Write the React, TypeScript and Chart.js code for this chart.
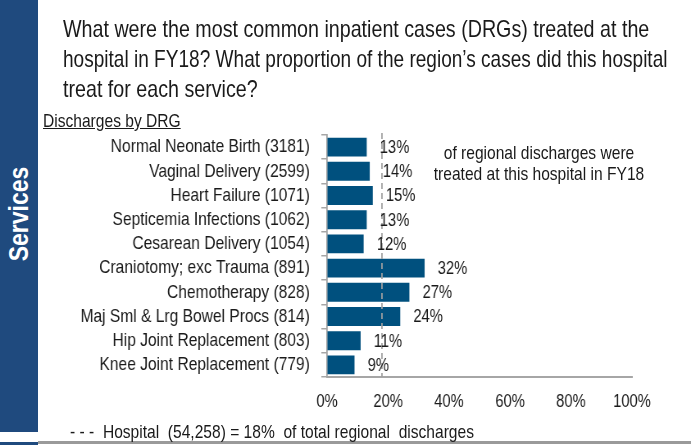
import React, { useEffect, useRef } from "react";
import { Chart, registerables } from "chart.js";

Chart.register(...registerables);

const categories = [
  "Normal Neonate Birth (3181)",
  "Vaginal Delivery (2599)",
  "Heart Failure (1071)",
  "Septicemia Infections (1062)",
  "Cesarean Delivery (1054)",
  "Craniotomy; exc Trauma (891)",
  "Chemotherapy (828)",
  "Maj Sml & Lrg Bowel Procs (814)",
  "Hip Joint Replacement (803)",
  "Knee Joint Replacement (779)",
];
const shareValues = [13, 14, 15, 13, 12, 32, 27, 24, 11, 9];
const hospitalShare = 18;
const xTicks = [0, 20, 40, 60, 80, 100];
const titleLines = [
  "What were the most common inpatient cases (DRGs) treated at the",
  "hospital in FY18? What proportion of the region\u2019s cases did this hospital",
  "treat for each service?",
];

const FONT = '"Liberation Sans", Arial, sans-serif';
const BAR = "#00507E";
const SIDE = "#1F4A7E";
const AXIS = "#A6A6A6";
const TEXT = "#1a1a1a";

// horizontal condensing factor (the reference uses a narrow face)
const K = 0.82;
const CW = Math.round(691 / K);
const CH = 445;
const titleScales = [K, 0.794, K];

const overlayPlugin = {
  id: "overlay",
  afterDatasetsDraw(chart: any) {
    const { ctx, chartArea, scales } = chart;
    const x = scales.x.getPixelForValue(hospitalShare);
    ctx.save();
    ctx.strokeStyle = "#A0A0A0";
    ctx.lineWidth = 1.8;
    ctx.setLineDash([6, 4]);
    ctx.beginPath();
    ctx.moveTo(x, chartArea.top - 2);
    ctx.lineTo(x, chartArea.bottom);
    ctx.stroke();
    ctx.setLineDash([]);
    const meta = chart.getDatasetMeta(0);
    ctx.font = `18px ${FONT}`;
    ctx.fillStyle = TEXT;
    ctx.textAlign = "left";
    ctx.textBaseline = "middle";
    meta.data.forEach((bar: any, i: number) => {
      ctx.fillText(`${shareValues[i]}%`, bar.x + 16, bar.y + 1);
    });
    ctx.restore();
  },
};

export default function App() {
  const ref = useRef<HTMLCanvasElement>(null);
  useEffect(() => {
    const chart = new Chart(ref.current!, {
      type: "bar",
      data: {
        labels: categories,
        datasets: [
          {
            data: shareValues,
            backgroundColor: BAR,
            barPercentage: 0.78,
            categoryPercentage: 1,
          },
        ],
      },
      options: {
        indexAxis: "y",
        responsive: false,
        animation: false,
        layout: { padding: { top: 135, right: CW - 771, bottom: 0, left: 0 } },
        plugins: { legend: { display: false }, tooltip: { enabled: false } },
        scales: {
          x: {
            min: 0,
            max: 100,
            afterBuildTicks(scale: any) {
              scale.ticks = xTicks.map((v) => ({ value: v }));
            },
            afterFit(scale: any) {
              scale.height = 68;
            },
            ticks: {
              callback: (v: any) => `${v}%`,
              font: { family: FONT, size: 18 },
              color: TEXT,
              padding: 14,
              maxRotation: 0,
              autoSkip: false,
            },
            grid: { drawOnChartArea: false, drawTicks: false },
            border: { color: AXIS, width: 2 },
          },
          y: {
            afterFit(scale: any) {
              scale.width = 399;
            },
            ticks: {
              font: { family: FONT, size: 19 },
              color: TEXT,
              padding: 14,
              autoSkip: false,
            },
            grid: {
              drawOnChartArea: false,
              drawTicks: true,
              tickLength: 7,
              color: AXIS,
              offset: true,
              lineWidth: 1.5,
            },
            border: { color: AXIS, width: 1.8 },
          },
        },
      },
      plugins: [overlayPlugin],
    });
    return () => chart.destroy();
  }, []);

  const abs = (s: React.CSSProperties): React.CSSProperties => ({
    position: "absolute",
    fontFamily: FONT,
    color: TEXT,
    margin: 0,
    whiteSpace: "pre",
    transformOrigin: "0 0",
    transform: `scaleX(${K})`,
    ...s,
  });

  return (
    <div
      style={{
        position: "fixed",
        left: 0,
        top: 0,
        width: 691,
        height: 445,
        background: "#fff",
        overflow: "hidden",
      }}
    >
      <div
        style={{
          position: "absolute",
          left: 0,
          top: 0,
          width: CW,
          height: CH,
          transformOrigin: "0 0",
          transform: `scaleX(${691 / CW})`,
        }}
      >
        <canvas
          ref={ref}
          width={CW}
          height={CH}
          style={{ display: "block", width: CW, height: CH }}
        />
      </div>
      <div style={{ position: "absolute", left: 0, top: 0, width: 38, height: 432, background: SIDE }} />
      <div style={{ position: "absolute", left: 38, top: 441, width: 653, height: 3, background: "#9A9A9A" }} />
      <div style={{ position: "absolute", left: 0, top: 442, width: 38, height: 3, background: SIDE }} />
      <div
        style={abs({
          left: 19,
          top: 214,
          transformOrigin: "50% 50%",
          transform: `translate(-50%, -50%) rotate(-90deg) scaleX(${K})`,
          color: "#fff",
          fontWeight: "bold",
          fontSize: 28,
          lineHeight: "30px",
        })}
      >
        Services
      </div>
      {titleLines.map((line, i) => (
        <div
          key={i}
          style={abs({
            left: 63,
            top: 14 + i * 30,
            fontSize: 24,
            lineHeight: "30px",
            transform: `scaleX(${titleScales[i]})`,
          })}
        >
          {line}
        </div>
      ))}
      <div style={abs({ left: 43, top: 111, fontSize: 19, lineHeight: "19px", textDecoration: "underline" })}>
        Discharges by DRG
      </div>
      <div
        style={abs({
          left: 539,
          top: 142,
          textAlign: "center",
          fontSize: 19,
          lineHeight: "21px",
          transformOrigin: "0 0",
          transform: `scaleX(${K}) translateX(-50%)`,
        })}
      >
        {"of regional discharges were\ntreated at this hospital in FY18"}
      </div>
      <div style={abs({ left: 70, top: 422, fontSize: 19, lineHeight: "19px" })}>
        {"- - -  Hospital  (54,258) = 18%  of total regional  discharges"}
      </div>
    </div>
  );
}
